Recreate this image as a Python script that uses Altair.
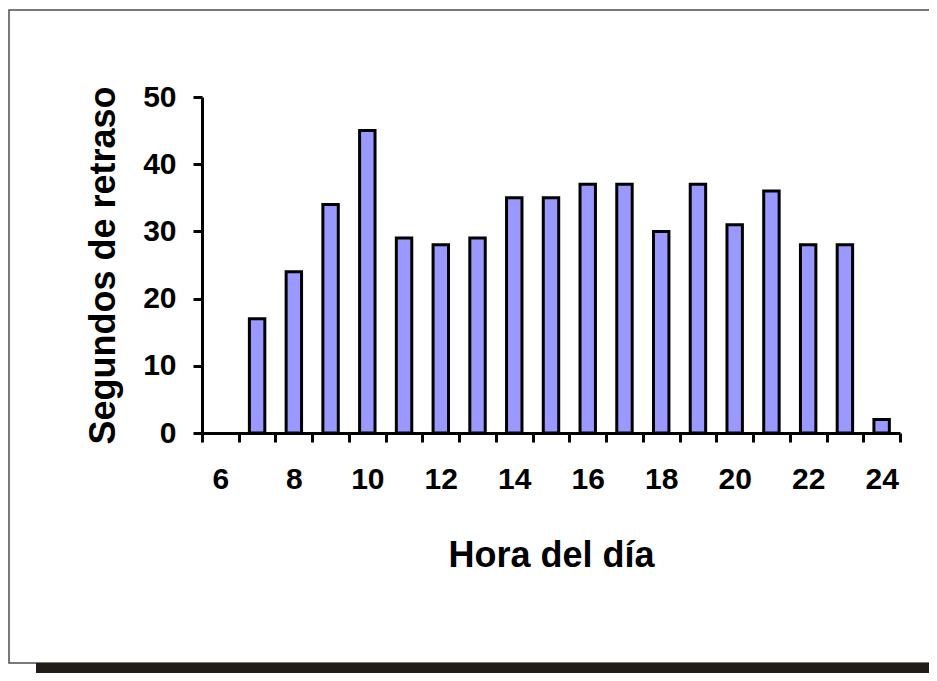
import altair as alt
import pandas as pd

hours = [str(h) for h in range(6, 25)]
delays = [0, 17, 24, 34, 45, 29, 28, 29, 35, 35, 37, 37, 30, 37, 31, 36, 28, 28, 2]

df = pd.DataFrame({"hora": hours, "seg": delays})

W, H = 698, 336
FONT = "Liberation Sans"

frame = alt.Chart(alt.Data(values=[{}])).mark_rect(
    fillOpacity=0, stroke="#4d4d4d", strokeWidth=1.5
).encode(
    x=alt.value(-193), x2=alt.value(780), y=alt.value(-87), y2=alt.value(566)
)

band = alt.Chart(alt.Data(values=[{}])).mark_rect(fill="#201c18").encode(
    x=alt.value(-166), x2=alt.value(780), y=alt.value(566), y2=alt.value(620)
)

bars = alt.Chart(df).transform_filter("datum.seg > 0").mark_bar(
    fill="#9999ff", stroke="black", strokeWidth=3,
    width=alt.RelativeBandSize(0.42),
).encode(
    x=alt.X(
        "hora:O",
        sort=hours,
        scale=alt.Scale(domain=hours, paddingInner=0, paddingOuter=0),
        axis=alt.Axis(
            title="Hora del día",
            labelAngle=0,
            labelExpr="toNumber(datum.value) % 2 == 0 ? datum.label : ''",
            tickBand="extent",
            tickSize=9,
            tickWidth=3,
            tickColor="black",
            domainColor="black",
            domainWidth=3,
            labelFont=FONT,
            labelFontSize=30,
            labelFontWeight="bold",
            labelColor="black",
            labelBaseline="middle",
            labelPadding=37,
            titleFont=FONT,
            titleFontSize=36,
            titleFontWeight="bold",
            titleColor="black",
            titleBaseline="middle",
            titleX=349,
            titleY=122,
            grid=False,
            zindex=1,
        ),
    ),
    y=alt.Y(
        "seg:Q",
        scale=alt.Scale(domain=[0, 50], nice=False),
        axis=alt.Axis(
            title="Segundos de retraso",
            values=[0, 10, 20, 30, 40, 50],
            tickSize=9,
            tickWidth=3,
            tickColor="black",
            domainColor="black",
            domainWidth=3,
            labelFont=FONT,
            labelFontSize=30,
            labelFontWeight="bold",
            labelColor="black",
            labelPadding=17,
            titleFont=FONT,
            titleFontSize=36,
            titleFontWeight="bold",
            titleColor="black",
            titleAngle=270,
            titleBaseline="middle",
            titleX=-99,
            titleY=168,
            grid=False,
            zindex=1,
        ),
    ),
)

chart = alt.layer(frame, band, bars).properties(
    width=W,
    height=H,
    autosize=alt.AutoSizeParams(type="none"),
    padding={"left": 194, "top": 89, "right": 29, "bottom": 240},
    background="white",
).configure_view(stroke=None)

chart.save("out.html", embed_options={"renderer": "svg", "actions": False})
